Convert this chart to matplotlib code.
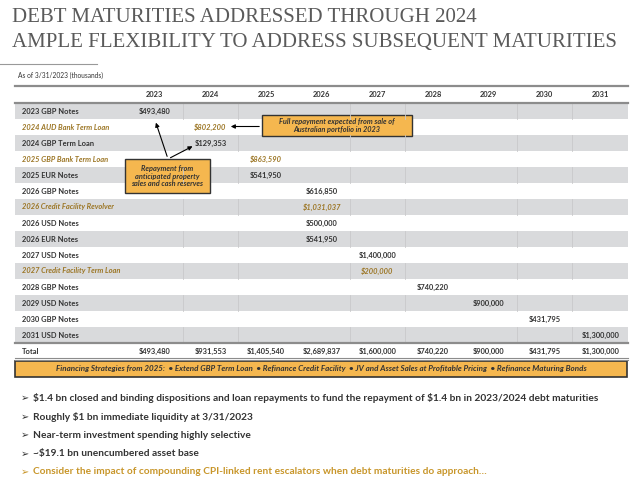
import matplotlib.pyplot as plt
from matplotlib.patches import Rectangle

plt.rcParams['text.parse_math'] = False

# --- data ---
years = ['2023', '2024', '2025', '2026', '2027', '2028', '2029', '2030', '2031']
row_labels = ['2023 GBP Notes', '2024 AUD Bank Term Loan', '2024 GBP Term Loan',
              '2025 GBP Bank Term Loan', '2025 EUR Notes', '2026 GBP Notes',
              '2026 Credit Facility Revolver', '2026 USD Notes', '2026 EUR Notes',
              '2027 USD Notes', '2027 Credit Facility Term Loan', '2028 GBP Notes',
              '2029 USD Notes', '2030 GBP Notes', '2031 USD Notes']
row_year = ['2023', '2024', '2024', '2025', '2025', '2026', '2026', '2026', '2026',
            '2027', '2027', '2028', '2029', '2030', '2031']
row_value = [493480, 802200, 129353, 863590, 541950, 616850, 1031037, 500000, 541950,
             1400000, 200000, 740220, 900000, 431795, 1300000]
bank_loan = [False, True, False, True, False, False, True, False, False,
             False, True, False, False, False, False]
strategies = ['Extend GBP Term Loan', 'Refinance Credit Facility',
              'JV and Asset Sales at Profitable Pricing', 'Refinance Maturing Bonds']
bullets = ['$1.4 bn closed and binding dispositions and loan repayments to fund the repayment of $1.4 bn in 2023/2024 debt maturities',
           'Roughly $1 bn immediate liquidity at 3/31/2023',
           'Near-term investment spending highly selective',
           '~$19.1 bn unencumbered asset base',
           'Consider the impact of compounding CPI-linked rent escalators when debt maturities do approach…']

totals = [sum(v for y2, v in zip(row_year, row_value) if y2 == y) for y in years]

# --- styles ---
DARK = '#333333'
GOLD = '#9c7625'
ORANGE = '#f5b74f'
GRAYROW = '#d9dadc'
FONT = 'Lato'
SERIF = ['Liberation Serif', 'DejaVu Serif']
TS = 5.4  # table font size

fig = plt.figure(figsize=(6.4, 4.8), dpi=100)
ax = fig.add_axes([0, 0, 1, 1])
ax.set_xlim(0, 640)
ax.set_ylim(480, 0)
ax.axis('off')

# title
ax.text(12, 17, 'DEBT MATURITIES ADDRESSED THROUGH 2024', fontsize=15,
        family=SERIF, color='#5a5a5a', va='center')
ax.text(12, 42, 'AMPLE FLEXIBILITY TO ADDRESS SUBSEQUENT MATURITIES', fontsize=15,
        family=SERIF, color='#5a5a5a', va='center')
ax.plot([0, 97], [64, 64], color='#999999', lw=0.8)
ax.text(18, 75, 'As of 3/31/2023 (thousands)', fontsize=4.8, family=FONT,
        color=DARK, va='center')

# table geometry
left, right = 15, 628
c0 = 127
cw = (right - c0) / len(years)
top = 86
hdr_bot = 103
rh = 16

def col_center(i):
    return c0 + cw * (i + 0.5)

ax.plot([left, right], [top, top], color='#8c8c8c', lw=1.6)
for i, y in enumerate(years):
    ax.text(col_center(i), (top + hdr_bot) / 2, y, fontsize=TS, family=FONT,
            weight='bold', color=DARK, ha='center', va='center')

for r, lab in enumerate(row_labels):
    y0 = hdr_bot + r * rh
    yc = y0 + rh / 2
    if r % 2 == 0:
        ax.add_patch(Rectangle((left, y0), right - left, rh, color=GRAYROW, lw=0))
        for b in [1, 2, 4, 5, 7, 8]:
            ax.plot([c0 + b * cw] * 2, [y0, y0 + rh], color='#c9c9cb', lw=0.6)
    col = GOLD if bank_loan[r] else DARK
    sty = 'italic' if bank_loan[r] else 'normal'
    ax.text(22, yc, lab, fontsize=TS, family=FONT, weight='bold',
            style=sty, color=col, va='center')
    ci = years.index(row_year[r])
    ax.text(col_center(ci), yc, f'${row_value[r]:,}', fontsize=TS, family=FONT,
            weight='bold', style=sty, color=col, ha='center', va='center')

ax.plot([left, right], [hdr_bot, hdr_bot], color='#8c8c8c', lw=1.6)
tot_top = hdr_bot + len(row_labels) * rh
ax.plot([left, right], [tot_top, tot_top], color='#8c8c8c', lw=1.6)
ax.text(22, tot_top + 8, 'Total', fontsize=TS, family=FONT, weight='bold',
        color=DARK, va='center')
for i, t in enumerate(totals):
    ax.text(col_center(i), tot_top + 8, f'${t:,}', fontsize=TS, family=FONT,
            weight='bold', color=DARK, ha='center', va='center')
ax.plot([left, right], [tot_top + 15, tot_top + 15], color='#8c8c8c', lw=0.8)
ax.plot([left, right], [tot_top + 17, tot_top + 17], color='#8c8c8c', lw=0.8)

# callout: Australian portfolio
ax.add_patch(Rectangle((262, 115), 150, 21, facecolor=ORANGE, edgecolor=DARK, lw=1.0))
ax.text(337, 125.5, 'Full repayment expected from sale of\nAustralian portfolio in 2023',
        fontsize=5.3, family=FONT, weight='bold', style='italic', color=DARK,
        ha='center', va='center', linespacing=1.1)
ax.annotate('', xy=(228, 126.5), xytext=(262, 126.5),
            arrowprops=dict(arrowstyle='-|>', color='black', lw=0.8, mutation_scale=6))

# callout: property sales
ax.add_patch(Rectangle((125, 159), 85, 34, facecolor=ORANGE, edgecolor=DARK, lw=1.0))
ax.text(167.5, 176, 'Repayment from\nanticipated property\nsales and cash reserves',
        fontsize=5.3, family=FONT, weight='bold', style='italic', color=DARK,
        ha='center', va='center', linespacing=1.1)
ax.annotate('', xy=(155, 120), xytext=(168, 159),
            arrowprops=dict(arrowstyle='-|>', color='black', lw=0.8, mutation_scale=6))
ax.annotate('', xy=(195, 145), xytext=(168, 159),
            arrowprops=dict(arrowstyle='-|>', color='black', lw=0.8, mutation_scale=6))

# financing strategies banner
ax.add_patch(Rectangle((15, 361), 612, 16, facecolor=ORANGE, edgecolor=DARK, lw=1.2))
banner = 'Financing Strategies from 2025:  ' + '  '.join('\u2022 ' + s for s in strategies)
ax.text(321, 369, banner, fontsize=5.8, family=[FONT, 'DejaVu Sans'], weight='bold',
        style='italic', color=DARK, ha='center', va='center')

# bullets
for k, b in enumerate(bullets):
    yb = 398 + k * 18.5
    col = '#c8962a' if k == len(bullets) - 1 else DARK
    ax.text(21, yb, '\u27a2', fontsize=7, family='DejaVu Sans', color=col, va='center')
    ax.text(33, yb, b, fontsize=7.3, family=FONT, weight='bold', color=col,
            va='center')

fig.savefig('out.png', dpi=100)
